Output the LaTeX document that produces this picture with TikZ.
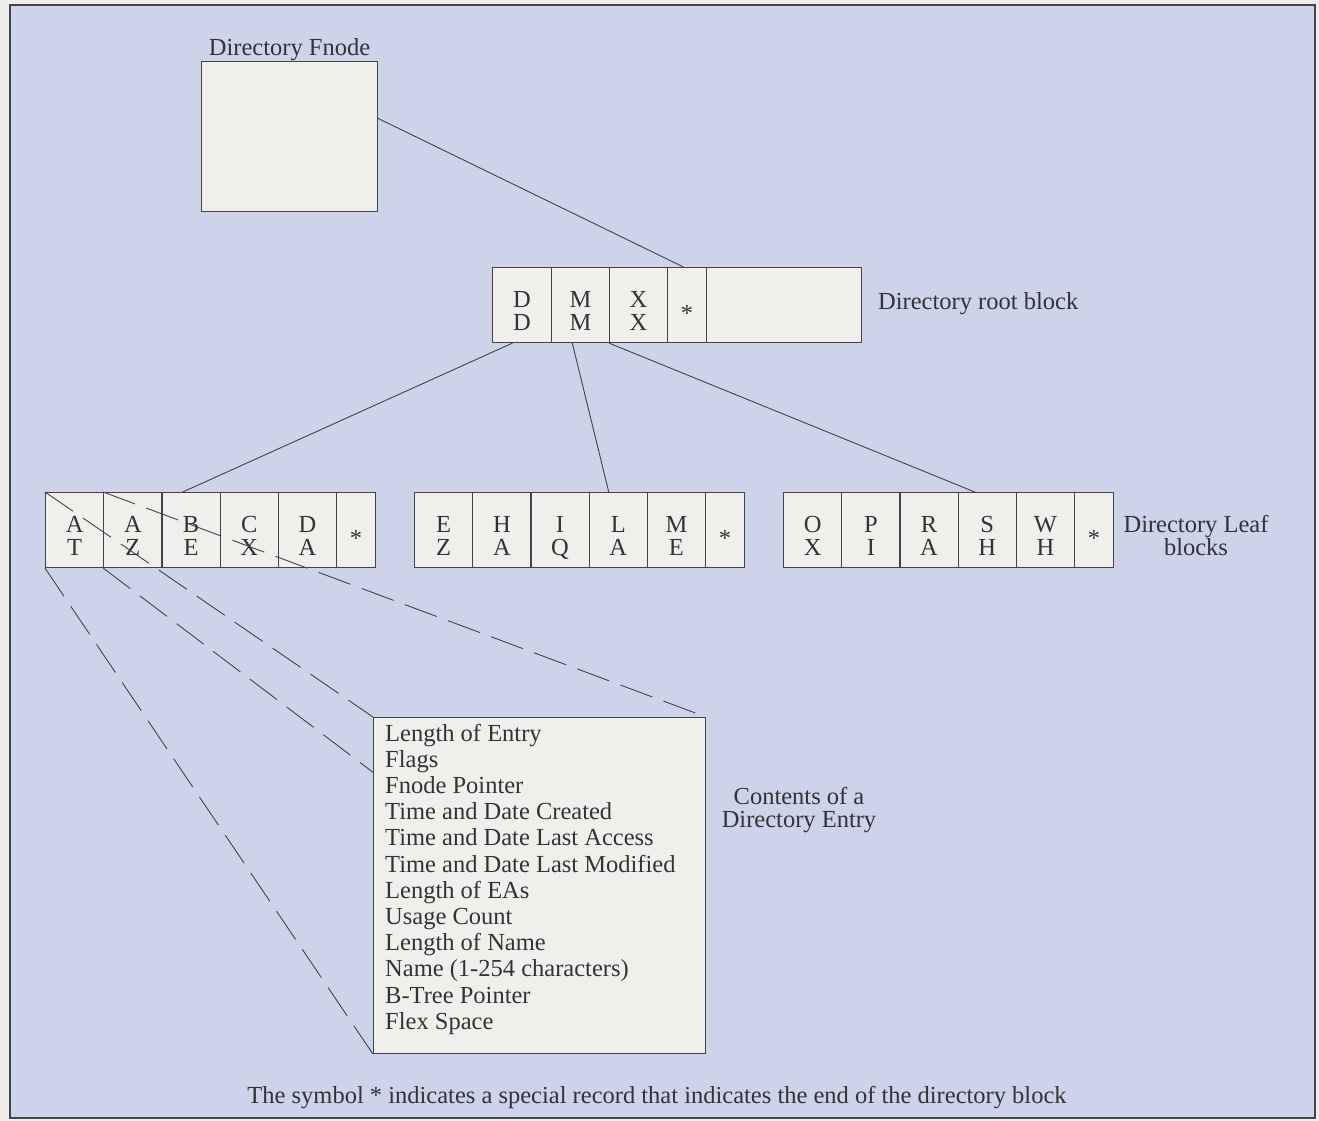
\documentclass[tikz,border=0pt]{standalone}
\usepackage{fontspec}
\setmainfont{Liberation Serif}
\usetikzlibrary{calc}
\definecolor{panel}{RGB}{205,211,233}
\definecolor{sheet}{RGB}{239,240,236}
\definecolor{edge}{RGB}{68,66,76}
\definecolor{ink}{RGB}{52,49,56}
\definecolor{margin}{RGB}{238,238,236}
\begin{document}
\begin{tikzpicture}[x=1pt,y=-1pt,
  every node/.style={text=ink, font=\fontsize{24.5}{23}\selectfont},
  boxstyle/.style={draw=edge, fill=sheet, line width=1.1pt, inner sep=0pt, anchor=north west},
  cellbox/.style={boxstyle, minimum height=75pt, minimum width=#1},
  cellbox/.default=58.2pt,
  glyph/.style={anchor=base, inner sep=0pt},
  link/.style={draw=edge, line width=0.9pt},
  guide/.style={draw=edge, line width=0.9pt, dash pattern=on 34pt off 12pt},
]
\useasboundingbox (0,0) rectangle (1319,1121);

% page and panel
\fill[margin] (0,0) rectangle (1319,1121);
\draw[edge, line width=1.2pt, fill=panel] (10,5) rectangle (1315,1118);

% directory fnode
\node[boxstyle, minimum width=176pt, minimum height=150pt] (fnode) at (201,61) {};
\node[glyph] at ([yshift=5pt]fnode.north) {Directory Fnode};

% directory root block
\foreach \nm/\x/\w/\hi in {r1/492/59pt/D, r2/551/58pt/M, r3/609/58pt/X}{
  \node[cellbox=\w] (\nm) at (\x,267) {};
  \node[glyph] at ([yshift=-2pt]\nm.center) {\hi};
  \node[glyph] at ([yshift=-25pt]\nm.center) {\hi};
}
\node[cellbox=39pt] (r4) at (667,267) {};
\node[glyph] at ([yshift=-16pt]r4.center) {*};
\node[cellbox=155pt] (r5) at (706,267) {};
\node[anchor=base west, inner sep=0pt] at (878,309) {Directory root block};

% directory leaf blocks
\foreach \hi/\lo [count=\i from 0] in {A/T,A/Z,B/E,C/X,D/A}{
  \node[cellbox] (la\i) at ({45+58.2*\i},492) {};
  \node[glyph] at ([yshift=-2pt]la\i.center) {\hi};
  \node[glyph] at ([yshift=-25pt]la\i.center) {\lo};
}
\node[cellbox=39pt] (la5) at (336,492) {};
\node[glyph] at ([yshift=-16pt]la5.center) {*};

\foreach \hi/\lo [count=\i from 0] in {E/Z,H/A,I/Q,L/A,M/E}{
  \node[cellbox] (lb\i) at ({414+58.2*\i},492) {};
  \node[glyph] at ([yshift=-2pt]lb\i.center) {\hi};
  \node[glyph] at ([yshift=-25pt]lb\i.center) {\lo};
}
\node[cellbox=39pt] (lb5) at (705,492) {};
\node[glyph] at ([yshift=-16pt]lb5.center) {*};

\foreach \hi/\lo [count=\i from 0] in {O/X,P/I,R/A,S/H,W/H}{
  \node[cellbox] (lc\i) at ({783+58.2*\i},492) {};
  \node[glyph] at ([yshift=-2pt]lc\i.center) {\hi};
  \node[glyph] at ([yshift=-25pt]lc\i.center) {\lo};
}
\node[cellbox=39pt] (lc5) at (1074,492) {};
\node[glyph] at ([yshift=-16pt]lc5.center) {*};

\node[glyph] at (1196,532) {Directory Leaf};
\node[glyph] at (1196,555) {blocks};

% tree links
\draw[link] ($(fnode.north east)!0.38!(fnode.south east)$) -- ($(r4.north west)!0.41!(r4.north east)$);
\draw[link] ($(r1.south west)!0.34!(r1.south east)$) -- ($(la2.north west)!0.36!(la2.north east)$);
\draw[link] ($(r2.south west)!0.36!(r2.south east)$) -- ($(lb3.north west)!0.34!(lb3.north east)$);
\draw[link] (r3.south west) -- ($(lc3.north west)!0.29!(lc3.north east)$);

% directory entry layout
\node[boxstyle, minimum width=332pt, minimum height=336pt] (entry) at (373,717) {};
\foreach \s [count=\i from 0] in {Length of Entry, Flags, Fnode Pointer,
    Time and Date Created, Time and Date Last Access, Time and Date Last Modified,
    Length of EAs, Usage Count, Length of Name, Name (1-254 characters),
    B-Tree Pointer, Flex Space}{
  \node[anchor=base west, inner sep=0pt] at (385,{741+26.2*\i}) {\s};
}
\node[glyph] at (799,804) {Contents of a};
\node[glyph] at (799,827) {Directory Entry};

% expansion of the first entries
\draw[guide] (la0.north west) -- (entry.north west);
\draw[guide] (la1.north west) -- (entry.north east);
\draw[guide] (la0.south west) -- (entry.south west);
\draw[guide] (la1.south west) -- ($(entry.north west)!0.164!(entry.south west)$);

\node[glyph] at (657,1103) {The symbol * indicates a special record that indicates the end of the directory block};
\end{tikzpicture}
\end{document}
